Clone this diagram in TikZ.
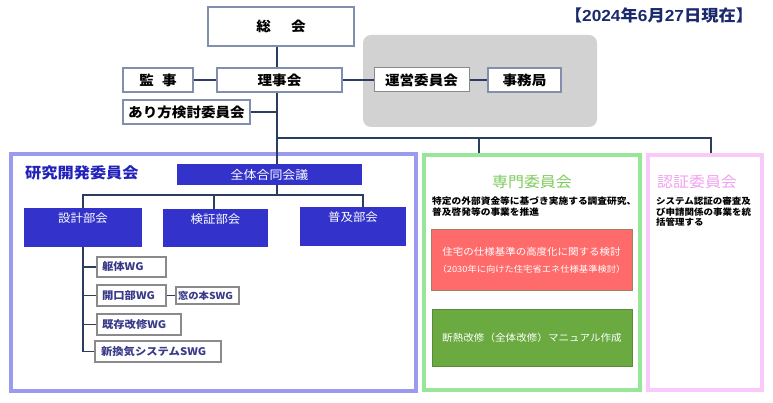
\documentclass[tikz,border=0pt]{standalone}
\usepackage{fontspec}
\setmainfont[FakeStretch=1.08]{Noto Sans CJK JP}
\newfontfamily\datenum[FakeStretch=1.08]{Liberation Sans}
\definecolor{topbd}{HTML}{8090AC}
\definecolor{conn}{HTML}{2C3E60}
\definecolor{graybg}{HTML}{D2D2D2}
\definecolor{datec}{HTML}{1A2A6C}
\definecolor{rdframe}{HTML}{9A9AF0}
\definecolor{rdtitle}{HTML}{2222BB}
\definecolor{blk}{HTML}{3333CC}
\definecolor{wgbd}{HTML}{8A8A8A}
\definecolor{wgtx}{HTML}{3A3A8A}
\definecolor{spframe}{HTML}{99E699}
\definecolor{sptitle}{HTML}{7CCB5C}
\definecolor{redf}{HTML}{FF6B6B}
\definecolor{redbd}{HTML}{A08060}
\definecolor{grnf}{HTML}{6AAA40}
\definecolor{grnbd}{HTML}{5A8A3A}
\definecolor{ncframe}{HTML}{F9C9F9}
\definecolor{nctitle}{HTML}{F0A0F0}
\newcommand{\dnum}[1]{{\datenum\bfseries #1}}
\begin{document}
\begin{tikzpicture}[x=1pt,y=-1pt,
  topbox/.style={draw=topbd,line width=1.8pt,fill=white,inner sep=0pt,font=\fontsize{13.5}{15}\selectfont\bfseries},
  thinbox/.style={draw=wgbd,line width=1pt,fill=white,inner sep=0pt,font=\fontsize{13.5}{15}\selectfont\bfseries},
  frame/.style={line width=3.5pt,inner sep=0pt},
  blkbox/.style={fill=blk,inner sep=0pt,text=white},
  wgbox/.style={draw=wgbd,line width=1.2pt,fill=white,inner xsep=5pt,inner ysep=0pt,align=left,text=wgtx,font=\fontsize{10.5}{12}\selectfont\bfseries},
  conline/.style={draw=conn,line width=1.4pt},
  desc/.style={anchor=north west,align=left,inner sep=0pt,font=\fontsize{9}{10.6}\selectfont\bfseries}]
\useasboundingbox (0,0) rectangle (773,403);
% gray area
\node[fill=graybg,rounded corners=8pt,minimum width=234pt,minimum height=92pt,inner sep=0pt] (grayarea) at (480,81) {};
% top boxes
\node[topbox,minimum width=146pt,minimum height=39pt] (soukai) at (281,26.5) {総\hspace{1.5em}会};
\node[topbox,minimum width=125pt,minimum height=24pt] (riji) at (279.5,80) {理事会};
\node[topbox,minimum width=70pt,minimum height=24pt] (kanji) at (158,80) {監\hspace{0.6em}事};
\node[topbox,minimum width=127pt,minimum height=24pt] (arikata) at (186.5,112) {あり方検討委員会};
\node[thinbox,minimum width=95pt,minimum height=24pt] (unei) at (421.5,80) {運営委員会};
\node[topbox,minimum width=73pt,minimum height=24pt] (jimu) at (524.5,80) {事務局};
\node[text=datec,font=\fontsize{16}{18}\selectfont\bfseries,inner sep=0pt] (date) at (659,15) {【\dnum{2024}年\dnum{6}月\dnum{27}日現在】};
% frames
\node[frame,draw=rdframe,minimum width=405pt,minimum height=237pt] (rdF) at (213.5,272.5) {};
\node[frame,draw=spframe,minimum width=216pt,minimum height=235pt] (spF) at (532,272.5) {};
\node[frame,draw=ncframe,minimum width=114pt,minimum height=235pt] (ncF) at (705,272.5) {};
% trunk coordinates
\coordinate (tr) at (277,0);
\coordinate (j1) at (277,138);
\coordinate (spx) at (479,0);
\coordinate (ncx) at (711,0);
% research committee
\node[anchor=west,text=rdtitle,font=\fontsize{15}{17}\selectfont\bfseries,inner sep=0pt] (rdtitle) at (25,173) {研究開発委員会};
\node[blkbox,font=\fontsize{12}{14}\selectfont,minimum width=185pt,minimum height=21pt] (zentai) at (269.5,174.5) {全体合同会議};
\node[blkbox,font=\fontsize{11.5}{13}\selectfont,minimum width=118pt,minimum height=39pt,text depth=19pt] (sekkei) at (83,227.5) {設計部会};
\node[blkbox,font=\fontsize{11.5}{13}\selectfont,minimum width=105pt,minimum height=38pt,text depth=19pt] (kensho) at (215.5,228) {検証部会};
\node[blkbox,font=\fontsize{11.5}{13}\selectfont,minimum width=106pt,minimum height=39pt,text depth=19pt] (fukyu) at (353,226.5) {普及部会};
\coordinate (hb) at (0,195);
\coordinate (sx) at (83,0);
\coordinate (kx) at (214,0);
\coordinate (fx) at (363,0);
% WGs
\node[wgbox,text width=59pt,minimum height=20pt] (kutai) at (131.5,267) {躯体WG};
\node[wgbox,text width=59pt,minimum height=21pt] (kaiko) at (131.5,295.5) {開口部WG};
\node[wgbox,inner xsep=2pt,text width=59pt,minimum height=17pt,font=\fontsize{9.6}{11}\selectfont\bfseries] (mado) at (207.5,295.5) {窓の本SWG};
\node[wgbox,text width=74pt,minimum height=21pt] (kison) at (139,324.5) {既存改修WG};
\node[wgbox,inner xsep=6pt,text width=114pt,minimum height=21pt] (shinkanki) at (158,351.5) {新換気システムSWG};
% specialist committee
\node[text=sptitle,font=\fontsize{14.8}{16}\selectfont,inner sep=0pt] (sptitle) at (532,182) {専門委員会};
\node[desc] (spdesc) at (432,197) {特定の外部資金等に基づき実施する調査研究、\\普及啓発等の事業を推進};
\node[draw=redbd,line width=1pt,fill=redf,minimum width=201pt,minimum height=60pt,inner sep=0pt,text=white,align=center] (red) at (531.5,260)
  {{\fontsize{9.7}{12}\selectfont 住宅の仕様基準の高度化に関する検討}\\[5pt]{\fontsize{8.6}{10}\selectfont （2030年に向けた住宅省エネ仕様基準検討）}};
\node[draw=grnbd,line width=1pt,fill=grnf,minimum width=200pt,minimum height=57pt,inner sep=0pt,text=white,font=\fontsize{9.8}{12}\selectfont] (green) at (532,337.5) {断熱改修（全体改修）マニュアル作成};
% certification committee
\node[text=nctitle,font=\fontsize{14.8}{16}\selectfont,inner sep=0pt] (nctitle) at (697,182) {認証委員会};
\node[desc,font=\fontsize{8.8}{10.6}\selectfont\bfseries] (ncdesc) at (656,197) {システム認証の審査及\\び申請関係の事業を統\\括管理する};
% connectors
\draw[conline] (soukai.south -| tr) -- (riji.north -| tr);
\draw[conline] (kanji.east) -- (riji.west);
\draw[conline] (riji.east) -- (unei.west);
\draw[conline] (unei.east) -- (jimu.west);
\draw[conline] (riji.south -| tr) -- (zentai.north -| tr);
\draw[conline] (arikata.east) -- (arikata.east -| tr);
\draw[conline] (j1) -| (spF.north -| spx);
\draw[conline] (j1) -| (ncF.north -| ncx);
\draw[conline] (zentai.south -| tr) -- (hb -| tr);
\draw[conline] (sekkei.north -| sx) |- (hb -| tr) -| (fukyu.north -| fx);
\draw[conline] (hb -| kx) -- (kensho.north -| kx);
\draw[conline] (sekkei.south -| sx) |- (shinkanki.west);
\draw[conline] (kutai.west -| sx) -- (kutai.west);
\draw[conline] (kaiko.west -| sx) -- (kaiko.west);
\draw[conline] (kison.west -| sx) -- (kison.west);
\draw[conline] (kaiko.east) -- (mado.west);
\end{tikzpicture}
\end{document}
